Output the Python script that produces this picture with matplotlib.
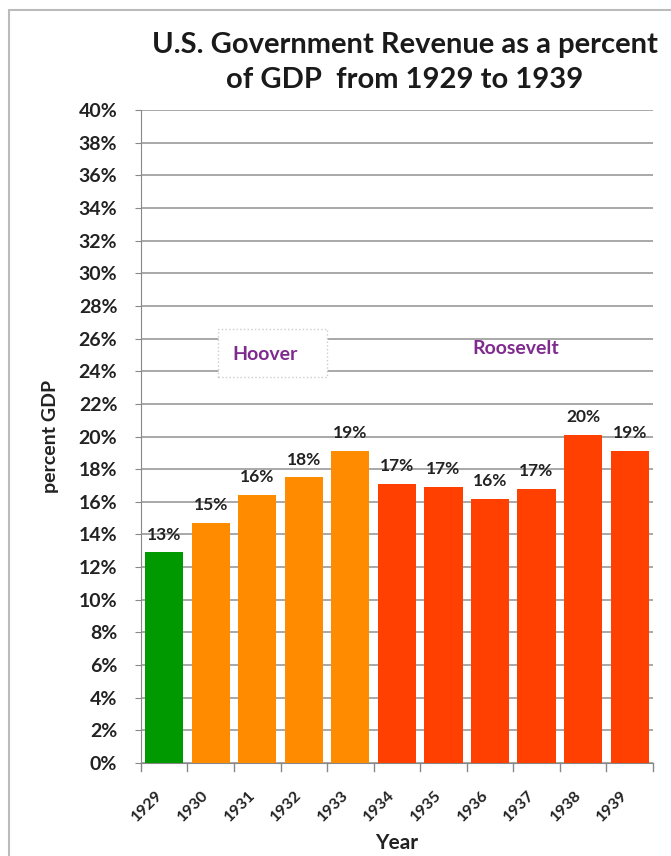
import matplotlib.pyplot as plt
import matplotlib.patches as mpatches
import matplotlib.transforms as mtransforms
from matplotlib.ticker import MultipleLocator, FuncFormatter

years = ['1929', '1930', '1931', '1932', '1933', '1934', '1935', '1936', '1937', '1938', '1939']
revenue = [12.9, 14.7, 16.4, 17.5, 19.1, 17.1, 16.9, 16.2, 16.8, 20.1, 19.1]
labels = ['13%', '15%', '16%', '18%', '19%', '17%', '17%', '16%', '17%', '20%', '19%']
colors = ['#009a00'] + ['#ff8c00'] * 4 + ['#ff4000'] * 6

plt.rcParams['font.family'] = ['Lato', 'DejaVu Sans']

fig = plt.figure(figsize=(6.71, 8.56), dpi=100)
ax = fig.add_axes([0.210, 0.1086, 0.763, 0.7629])

x = range(len(years))
ax.bar(x, revenue, width=0.82, color=colors, zorder=3)
for i, (v, lab) in enumerate(zip(revenue, labels)):
    ax.text(i, v + 0.6, lab, ha='center', va='bottom', fontsize=12.5,
            fontweight='bold', color='#222222')

ax.set_xlim(-0.5, len(years) - 0.5)
ax.set_ylim(0, 40)
ax.yaxis.set_major_locator(MultipleLocator(2))
ax.yaxis.set_major_formatter(FuncFormatter(lambda v, p: '%d%%' % v))
ax.grid(axis='y', color='#9a9a9a', linewidth=1.2, zorder=0)
ax.set_xticks(list(x))
ax.set_xticklabels(years, rotation=45, ha='right', rotation_mode='anchor',
                   fontsize=11.5, fontweight='bold', color='#222222')
ax.tick_params(axis='y', labelsize=14, length=4, color='#888888', pad=13,
               labelcolor='#222222')
ax.tick_params(axis='x', length=0, pad=18)
for lab in ax.get_yticklabels():
    lab.set_fontweight('bold')
shift = mtransforms.ScaledTranslation(-9 / 100, 0, fig.dpi_scale_trans)
for lab in ax.get_xticklabels():
    lab.set_transform(lab.get_transform() + shift)

# category separators on x axis
for b in [i - 0.5 for i in range(len(years) + 1)]:
    ax.plot([b, b], [0, -0.5], color='#888888', lw=1, clip_on=False)

for s in ['top', 'right']:
    ax.spines[s].set_visible(False)
ax.spines['left'].set_color('#888888')
ax.spines['bottom'].set_color('#888888')

ax.set_ylabel('percent GDP', fontsize=14, fontweight='bold', labelpad=14,
              color='#222222')
ax.set_xlabel('Year', fontsize=15, fontweight='bold', labelpad=6,
              color='#222222')

fig.text(0.603, 0.947, 'U.S. Government Revenue as a percent', ha='center',
         va='center', fontsize=21, fontweight='bold', color='#1a1a1a')
fig.text(0.603, 0.907, 'of GDP  from 1929 to 1939', ha='center',
         va='center', fontsize=21, fontweight='bold', color='#1a1a1a')

# Hoover label box
ax.add_patch(mpatches.Rectangle((1.15, 23.63), 2.35, 2.93, fc='white',
                                ec='#cccccc', ls=':', lw=1, zorder=4))
ax.text(2.16, 25.0, 'Hoover', ha='center', va='center', fontsize=14,
        fontweight='bold', color='#7f2a8f', zorder=5)
ax.text(7.56, 25.4, 'Roosevelt', ha='center', va='center', fontsize=14,
        fontweight='bold', color='#7f2a8f', zorder=5)

# chart frame
fig.add_artist(mpatches.Rectangle((0.013, -0.1), 1.0, 1.088, transform=fig.transFigure,
                                  fill=False, ec='#bbbbbb', lw=1.5))

fig.savefig('out.png', dpi=100)
